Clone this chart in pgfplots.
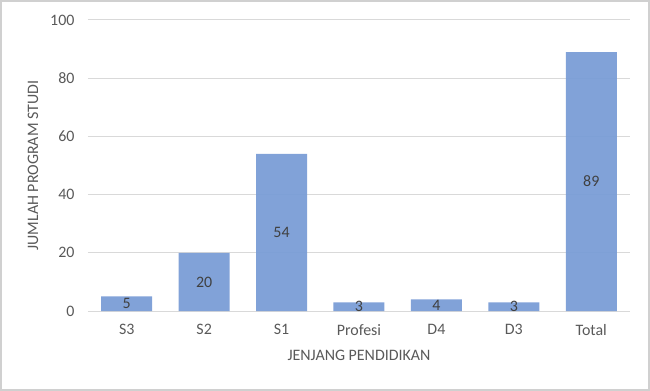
\documentclass[border=0pt]{standalone}
\usepackage{pgfplots}
\pgfplotsset{compat=1.18}
\usepackage{fontspec}
\setmainfont{Carlito}
\definecolor{barc}{HTML}{7A9DD6}
\definecolor{gridc}{HTML}{D9D9D9}
\definecolor{framec}{HTML}{D0D0D0}
\definecolor{txt}{HTML}{595959}
\definecolor{lbl}{HTML}{404040}
\begin{document}
\begin{tikzpicture}
\fontsize{16}{19}\selectfont
\draw[framec, line width=2bp] (-87bp,-79bp) rectangle (561bp,310bp);
\begin{axis}[
  at={(0,0)}, anchor=south west,
  scale only axis, width=542bp, height=291bp,
  xmin=-0.5, xmax=6.5, ymin=0, ymax=100,
  ytick={0,20,40,60,80,100},
  xtick={0,...,6},
  xticklabels={S3,S2,S1,Profesi,D4,D3,Total},
  axis x line*=bottom,
  axis y line*=left,
  x axis line style={gridc, line width=1bp, -},
  y axis line style={draw=none, -},
  ymajorgrids, grid style={gridc, line width=1bp},
  major tick length=0pt,
  tick label style={font=\fontsize{16}{19}\selectfont, text=txt},
  /pgf/number format/assume math mode=true,
  yticklabel style={xshift=-8bp},
  xticklabel style={yshift=-8bp},
  xlabel={JENJANG PENDIDIKAN},
  ylabel={JUMLAH PROGRAM STUDI},
  label style={font=\fontsize{16}{19}\selectfont, text=txt},
  xlabel style={at={(axis description cs:0.5,-0.151)}, anchor=center},
  ylabel style={at={(axis description cs:-0.1015,0.5)}, anchor=center},
  clip=false,
]
\addplot[ybar, bar width=51bp, fill=barc, draw=none, fill opacity=0.95] coordinates {
  (0,5) (1,20) (2,54) (3,3) (4,4) (5,3) (6,89)
};
\addplot[only marks, mark=none, nodes near coords, point meta=explicit symbolic,
  every node near coord/.append style={anchor=center, text=lbl, font=\fontsize{16}{19}\selectfont}]
  coordinates {
  (0,2.5)[5] (1,10)[20] (2,27)[54] (3,1.5)[3] (4,2)[4] (5,1.5)[3] (6,44.5)[89]
};
\end{axis}
\end{tikzpicture}
\end{document}
